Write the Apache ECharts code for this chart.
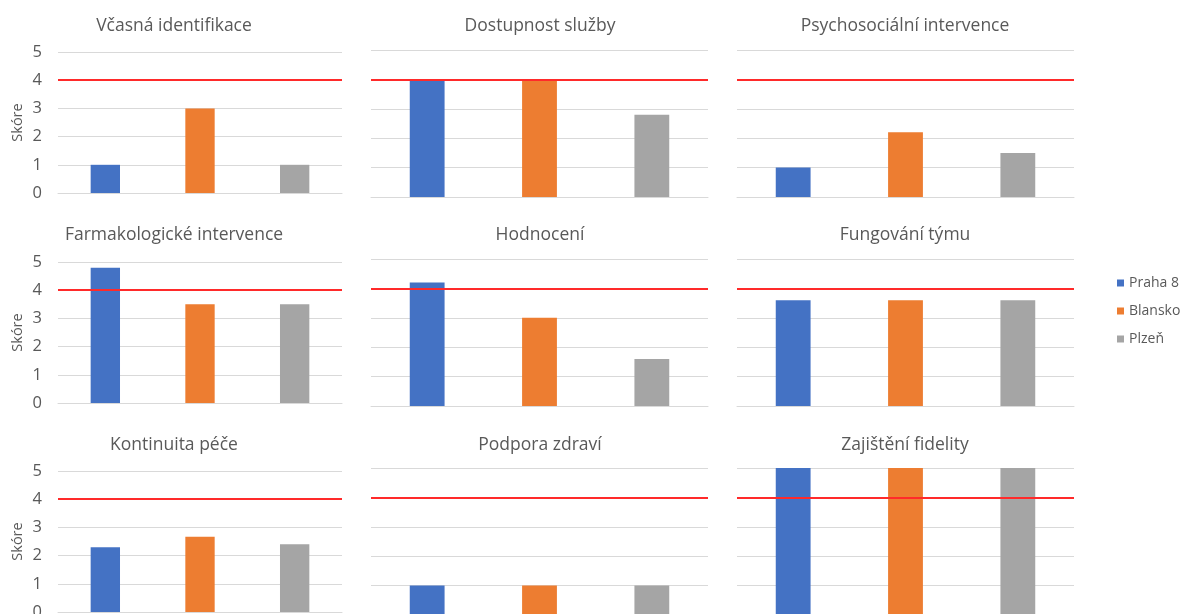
<!DOCTYPE html>
<html>
<head>
<meta charset="utf-8">
<script src="https://cdn.jsdelivr.net/npm/echarts@6/dist/echarts.min.js"></script>
<style>
  html, body { margin: 0; padding: 0; background: #fff; }
  #chart { width: 1185px; height: 614px; }
</style>
</head>
<body>
<div id="chart"></div>
<script>
// Fidelity scores per domain and site
const domains = [
  'Včasná identifikace', 'Dostupnost služby', 'Psychosociální intervence',
  'Farmakologické intervence', 'Hodnocení', 'Fungování týmu',
  'Kontinuita péče', 'Podpora zdraví', 'Zajištění fidelity'
];
const sites = ['Praha 8', 'Blansko', 'Plzeň'];
const praha8 = [1, 4, 1, 4.8, 4.2, 3.6, 2.3, 1, 5];
const blansko = [3, 4, 2.2, 3.5, 3, 3.6, 2.67, 1, 5];
const plzen = [1, 2.8, 1.5, 3.5, 1.6, 3.6, 2.4, 1, 5];
const targetScore = [4];
const yTicks = [0, 1, 2, 3, 4, 5];

const siteValues = [praha8, blansko, plzen];
const siteColors = ['#4472C4', '#ED7D31', '#A5A5A5'];
const textColor = '#595959';
const gridColor = '#D9D9D9';
const fontFamily = '"Open Sans", "Noto Sans", sans-serif';

// panel layout: columns and rows of the 3x3 grid
const cols = [
  { left: 58, width: 284, titleX: 174, labels: true },
  { left: 371, width: 337, titleX: 540, labels: false },
  { left: 737, width: 337, titleX: 905, labels: false }
];
const rowsLeft = [52, 262, 471];
const rowsOther = [50, 259, 468];
const titleY = [17, 226, 436];

const grids = [], xAxes = [], yAxes = [], series = [], titles = [];

domains.forEach((name, i) => {
  const c = cols[i % 3];
  const r = Math.floor(i / 3);
  const top = c.labels ? rowsLeft[r] : rowsOther[r];
  const height = c.labels ? 141 : 147;
  grids.push({ left: c.left, top: top, width: c.width, height: height, outerBoundsMode: 'none', containLabel: false });
  titles.push({
    text: name,
    left: c.titleX,
    top: titleY[r],
    padding: 0,
    textAlign: 'center',
    textStyle: { fontFamily, fontSize: 17.5, fontWeight: 'normal', color: textColor }
  });
  xAxes.push({
    type: 'category',
    gridIndex: i,
    data: sites,
    axisLine: { show: true, lineStyle: { color: gridColor, width: 1 } },
    axisTick: { show: false },
    axisLabel: { show: false }
  });
  yAxes.push({
    type: 'value',
    gridIndex: i,
    min: yTicks[0],
    max: yTicks[yTicks.length - 1],
    interval: 1,
    axisLine: { show: false },
    axisTick: { show: false },
    axisLabel: { show: c.labels, color: textColor, fontFamily, fontSize: 16.5, margin: 16 },
    splitLine: { lineStyle: { color: gridColor, width: 1 } },
    name: c.labels ? 'Skóre' : '',
    nameLocation: 'middle',
    nameRotate: 90,
    nameGap: 33,
    nameTextStyle: { color: textColor, fontFamily, fontSize: 14.5 }
  });
  sites.forEach((site, s) => {
    const data = sites.map((_, k) => (k === s ? siteValues[s][i] : null));
    const ser = {
      type: 'bar',
      name: site,
      xAxisIndex: i,
      yAxisIndex: i,
      data: data,
      barWidth: '31%',
      barGap: '-100%',
      itemStyle: { color: siteColors[s] },
      silent: true
    };
    if (s === sites.length - 1) {
      ser.markLine = {
        silent: true,
        symbol: 'none',
        label: { show: false },
        lineStyle: { color: '#FF2A2A', width: 2, type: 'solid' },
        data: targetScore.map(v => ({ yAxis: v }))
      };
    }
    series.push(ser);
  });
});

const chart = echarts.init(document.getElementById('chart'), null, { renderer: 'canvas' });
chart.setOption({
  animation: false,
  backgroundColor: '#ffffff',
  title: titles,
  grid: grids,
  xAxis: xAxes,
  yAxis: yAxes,
  legend: {
    data: sites,
    orient: 'vertical',
    left: 1112,
    top: 271,
    icon: 'rect',
    itemWidth: 7,
    itemHeight: 7,
    itemGap: 14,
    textStyle: { color: textColor, fontFamily, fontSize: 14 }
  },
  series: series
});
</script>
</body>
</html>
